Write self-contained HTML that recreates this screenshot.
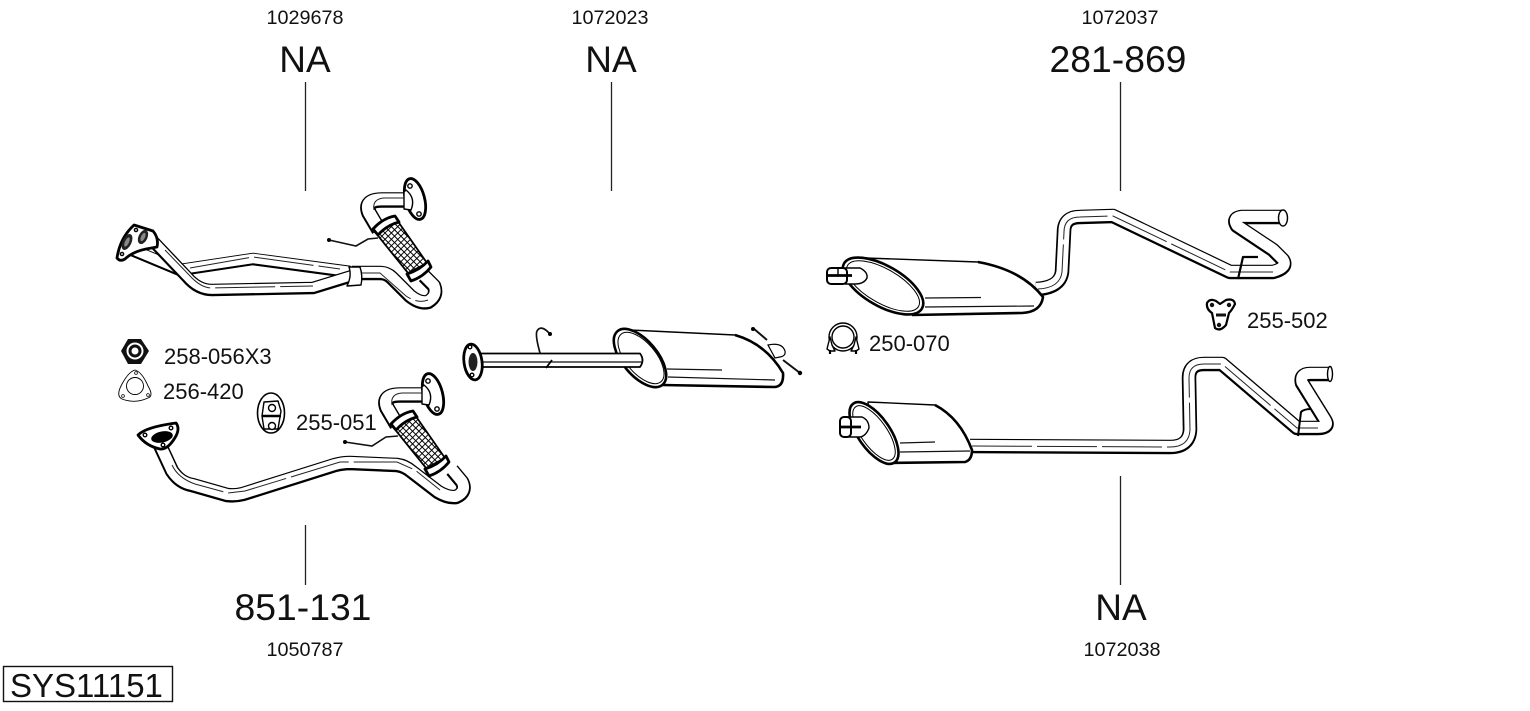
<!DOCTYPE html>
<html><head><meta charset="utf-8"><style>
html,body{margin:0;padding:0;background:#fff;width:1530px;height:711px;overflow:hidden}
svg{display:block}
text{font-family:"Liberation Sans",sans-serif;fill:#111}
.a{fill:none;stroke:#000;stroke-linejoin:round;stroke-linecap:butt}
.w{fill:none;stroke:#fff;stroke-linejoin:round;transform:translateY(-.6px)}
.c{fill:none;stroke:#222;stroke-width:1;stroke-dasharray:60 5}
.l{fill:none;stroke:#111;stroke-width:1.2}
.s{fill:#fff;stroke:#000;stroke-width:1.4;stroke-linejoin:round}
.h{fill:#fff;stroke:#000;stroke-width:2.8;stroke-linejoin:round}
</style></head><body>
<svg width="1530" height="711" viewBox="0 0 1530 711" xmlns="http://www.w3.org/2000/svg">
<defs>
<pattern id="mesh" width="4.5" height="4.5" patternUnits="userSpaceOnUse" patternTransform="rotate(45)">
<rect width="4.5" height="4.5" fill="#fff"/><path d="M0 0H4.500M0 0V4.500" stroke="#000" stroke-width="1.900"/>
</pattern>
<g id="flex">
<path class="a" stroke-width="15.500" d="M410 200H382Q364 200 369 213L379 230"/>
<path class="w" stroke-width="12" d="M410 200H382Q364 200 369 213L379 230"/>
<path class="c" d="M406 198H384Q372 199 374 210"/>
<ellipse class="h" cx="415" cy="199" rx="9.500" ry="21" transform="rotate(-15 415 199)"/>
<circle cx="410" cy="186" r="2.200" class="s"/><circle cx="419" cy="214" r="2.200" class="s"/>
<path class="s" d="M406 190Q416 198 411 210L404 209L404 192Z"/>
<path d="M375 232L397 220L427 263L408 273Z" fill="url(#mesh)" stroke="#000" stroke-width="1.800"/>
<path class="h" d="M373 229Q383 218 395 216L399 222Q387 225 378 235Z"/>
<path class="h" d="M407 274Q420 270 428 261L431 267Q423 277 411 281Z"/>
</g>
</defs>

<!-- labels -->
<text x="305" y="24" font-size="19.800" text-anchor="middle">1029678</text>
<text x="610" y="24" font-size="19.800" text-anchor="middle">1072023</text>
<text x="1120" y="24" font-size="19.800" text-anchor="middle">1072037</text>
<text x="305" y="72" font-size="37" text-anchor="middle">NA</text>
<text x="611" y="72" font-size="37" text-anchor="middle">NA</text>
<text x="1118" y="72" font-size="37.300" text-anchor="middle">281-869</text>
<text x="303" y="620" font-size="37.300" text-anchor="middle">851-131</text>
<text x="1121" y="620" font-size="37" text-anchor="middle">NA</text>
<text x="305" y="656" font-size="19.800" text-anchor="middle">1050787</text>
<text x="1122" y="656" font-size="19.800" text-anchor="middle">1072038</text>
<text x="164" y="364" font-size="22">258-056X3</text>
<text x="163" y="399" font-size="22">256-420</text>
<text x="296" y="430" font-size="22">255-051</text>
<text x="869" y="351" font-size="22">250-070</text>
<text x="1247" y="328" font-size="22">255-502</text>
<rect x="3.500" y="666.500" width="169" height="35" fill="#fff" stroke="#111" stroke-width="1.400"/>
<text x="10" y="697" font-size="33">SYS11151</text>

<!-- leaders -->
<path d="M305.500 82V191M611.500 82V191M1120.500 82V191M305.500 525V585M1120.500 476V585" stroke="#222" stroke-width="1.300" fill="none"/>

<!-- top-left downpipe -->
<g>
<path class="a" stroke-width="12.500" d="M132 250L180 270L253 259L350 272"/>
<path class="w" stroke-width="9.500" d="M132 250L180 270L253 259L350 272"/>
<path class="c" d="M190 268L253 257L340 269"/>
<path class="a" stroke-width="12.500" d="M150 238L187 277Q198 290 212 290L313 288L352 276"/>
<path class="w" stroke-width="9" d="M150 238L187 277Q198 290 212 290L313 288L352 276"/>
<path class="c" d="M165 250L192 278Q202 288 212 288L313 286"/>
<path class="a" stroke-width="14.500" d="M352 273H380Q387 273 392 278L410 296Q420 304 428 302Q438 296 434 286L424 276"/>
<path class="w" stroke-width="11" d="M352 273H380Q387 273 392 278L410 296Q420 304 428 302Q438 296 434 286L424 276"/>
<path class="c" d="M360 273H380L406 296Q418 304 428 300"/>
<path class="s" d="M349 267L360 267Q363 276 361 285L347 286Q352 276 349 267Z"/>
<use href="#flex"/>
<path class="l" style="stroke-width:1.600" d="M329 240L356 246L368 239L378 238"/>
<circle cx="329" cy="240" r="2"/>
<path class="h" d="M117 258Q120 238 134 225L153 231Q159 238 157 247L146 249Q132 252 125 259Q120 262 117 258Z"/>
<ellipse cx="127" cy="242" rx="4.500" ry="8.500" fill="#222" transform="rotate(25 127 242)"/>
<ellipse cx="143" cy="237" rx="4.500" ry="7.500" fill="#222" transform="rotate(25 143 237)"/>
<ellipse cx="127" cy="242" rx="2" ry="5" fill="#888" transform="rotate(25 127 242)"/>
<ellipse cx="143" cy="237" rx="2" ry="4.500" fill="#888" transform="rotate(25 143 237)"/>
<circle cx="122" cy="254" r="1.600" class="s"/><circle cx="136" cy="230" r="1.600" class="s"/>
</g>

<!-- small parts left -->
<path d="M121 351L128 339H141L149 351L141 364H128Z" fill="#111"/>
<circle cx="135" cy="351" r="8.500" fill="#fff"/><circle cx="135" cy="351" r="5" fill="none" stroke="#111" stroke-width="3"/>
<path class="s" d="M135 370Q142 372 148 386Q154 396 148 398Q135 404 122 399Q116 396 121 386Q128 372 135 370Z" style="stroke-width:.9"/>
<circle cx="135" cy="386" r="8.500" class="s" style="stroke-width:.9"/>
<circle cx="136" cy="373" r="1.400" class="s" style="stroke-width:.7"/><circle cx="123" cy="396" r="1.400" class="s" style="stroke-width:.7"/><circle cx="148" cy="395" r="1.400" class="s" style="stroke-width:.7"/>
<ellipse cx="271" cy="413" rx="13.500" ry="20" class="s" style="stroke-width:1.600"/>
<path class="s" d="M264 402L278 401L281 411L278 429L264 429L262 416Z"/>
<circle cx="272" cy="408" r="3.500" class="s"/><circle cx="272" cy="426" r="3.500" class="s"/>
<path d="M262 416H281" stroke="#000" stroke-width="2.500"/>

<!-- bottom-left downpipe -->
<g>
<path class="a" stroke-width="14.500" d="M159 443L172 471Q180 483 192 485L227 495Q235 496 243 494L335 465Q343 463 350 463L397 465Q405 466 412 472L438 492Q448 498 456 497Q467 492 462 482L452 470"/>
<path class="w" stroke-width="11" d="M159 443L172 471Q180 483 192 485L227 495Q235 496 243 494L335 465Q343 463 350 463L397 465Q405 466 412 472L438 492Q448 498 456 497Q467 492 462 482L452 470"/>
<path class="c" d="M172 465Q178 478 195 484L228 493L245 491L340 462H397L415 470L440 490"/>
<use href="#flex" transform="translate(18 195)"/>
<path class="l" style="stroke-width:1.600" d="M345 442L372 446L386 437L398 436"/>
<circle cx="345" cy="442" r="2"/>
<path class="h" d="M138 435Q146 427 176 423Q180 428 176 436Q168 450 160 449Q146 446 138 435Z"/>
<ellipse cx="162" cy="437" rx="11" ry="5.500" transform="rotate(-12 162 437)"/>
<circle cx="145" cy="435" r="1.800" class="s"/><circle cx="171" cy="428" r="1.800" class="s"/><circle cx="163" cy="445" r="1.800" class="s"/>
</g>

<!-- middle silencer -->
<g>
<path fill="#fff" stroke="#000" stroke-width="1.200" d="M768 345Q782 342 785 351Q786 356 780 357L775 358Z"/>
<path class="l" style="stroke-width:2" d="M753 328L767 340M783 360L800 373"/>
<circle cx="753" cy="329" r="2"/><circle cx="800" cy="373" r="2.200"/>
<path class="s" d="M630 330L735 335Q766 344 783 373Q784 386 775 387L662 385L640 360Z"/>
<path class="a" stroke-width="2.600" d="M735 335Q766 344 783 373Q784 386 775 387L662 385"/>
<path class="l" d="M667 369L722 370M668 377L775 380"/>
<ellipse cx="640" cy="358" rx="35" ry="17.500" transform="rotate(50 640 358)" fill="#fff" stroke="#000" stroke-width="2.600"/>
<ellipse cx="641" cy="358" rx="31" ry="15" transform="rotate(50 641 358)" fill="#fff" stroke="#000" stroke-width="1"/>
<path d="M478 354H640Q645 360 640 367H478Z" fill="#fff"/>
<path class="a" stroke-width="1.800" d="M478 353.500H640Q645 360 640 367H478"/>
<path class="l" d="M480 362H643"/>
<ellipse cx="473" cy="362" rx="9" ry="18" class="h" transform="rotate(-8 473 362)"/>
<ellipse cx="473" cy="362" rx="4.500" ry="9" fill="#222"/>
<circle cx="470" cy="347" r="1.800" class="s"/><circle cx="472" cy="375" r="1.800" class="s"/>
<path class="l" style="stroke-width:1.700" d="M540 353Q535 335 537 331Q541 324 550 334"/>
<circle cx="550" cy="334" r="2"/>
<path class="a" stroke-width="1.800" d="M552 360L546 368"/>
</g>

<!-- top rear silencer -->
<g>
<path class="a" stroke-width="14.500" d="M1036 289Q1060 288 1062 272L1064 232Q1064 217 1080 217L1113 216L1230 272H1273Q1288 268 1283 260L1273 250L1237 226Q1232 218 1242 217H1282"/>
<path class="w" stroke-width="11" d="M1036 289Q1060 288 1062 272L1064 232Q1064 217 1080 217L1113 216L1230 272H1273Q1288 268 1283 260L1273 250L1237 226Q1232 218 1242 217H1282"/>
<path class="c" d="M1038 289Q1060 288 1062 272L1064 232Q1064 217 1080 217L1113 216L1230 272H1273"/>
<ellipse cx="1283" cy="218" rx="4.500" ry="8" class="s"/>
<path class="a" stroke-width="2.200" d="M1238 279L1243 257H1258"/>
<path class="s" d="M865 258L978 262Q1022 270 1043 297Q1041 312 1022 313L912 315L880 285Z"/>
<path class="a" stroke-width="2.600" d="M978 262Q1022 270 1043 297Q1041 312 1022 313L912 315"/>
<path class="l" d="M925 298L981 297.500M925 307L1034 306"/>
<ellipse cx="883" cy="286" rx="45" ry="20" transform="rotate(30 883 286)" fill="#fff" stroke="#000" stroke-width="2.600"/>
<ellipse cx="883" cy="286" rx="41" ry="17" transform="rotate(30 883 286)" fill="#fff" stroke="#000" stroke-width="1"/>
<path class="s" d="M845 268H860Q868 272 867 278Q864 284 855 284H845Z"/>
<rect x="827" y="268" width="20" height="16" rx="4" fill="#fff" stroke="#000" stroke-width="2"/>
<path d="M828 275.500H852" stroke="#000" stroke-width="2.800"/><path d="M838 269V275" stroke="#000" stroke-width="1.400"/>
</g>

<!-- clamp -->
<circle cx="843" cy="337" r="14" class="s"/>
<circle cx="843" cy="337" r="11" class="s"/>
<path class="s" d="M830 337L827 349L830 351H835L832 345ZM856 337L859 349L856 351H851L854 345Z"/>
<path d="M830 350V354M856 350V354" stroke="#000" stroke-width="2.200"/>

<!-- hanger right -->
<path class="h" d="M1207 303Q1210 298 1216 301L1220 304L1226 300Q1234 298 1235 304Q1232 310 1229 313L1226 325Q1220 332 1215 328L1212 313Q1206 309 1207 303Z" style="stroke-width:2.200"/>
<circle cx="1212" cy="305" r="2.200" fill="#111"/><circle cx="1229" cy="305" r="2.200" fill="#111"/><circle cx="1219" cy="325" r="2.200" fill="#111"/>
<path d="M1216 315H1226" stroke="#111" stroke-width="3"/>

<!-- lower rear silencer -->
<g>
<path class="a" stroke-width="14.500" d="M970 446L1170 447Q1189 447 1190 430L1189 378Q1189 364 1204 364H1222L1297 428H1318Q1330 428 1325 420L1302 383Q1300 374 1310 374H1330"/>
<path class="w" stroke-width="11" d="M970 446L1170 447Q1189 447 1190 430L1189 378Q1189 364 1204 364H1222L1297 428H1318Q1330 428 1325 420L1302 383Q1300 374 1310 374H1330"/>
<path class="c" d="M972 446L1170 447Q1189 447 1190 430L1189 378Q1189 364 1204 364H1222L1297 428H1318"/>
<ellipse cx="1330" cy="374" rx="2.500" ry="7.500" class="s"/>
<path class="a" stroke-width="2" d="M1298 436L1301 412Q1304 409 1311 409"/>
<path class="s" d="M868 402L935 405Q960 418 972 450Q972 460 965 462L888 463L870 430Z"/>
<path class="a" stroke-width="2.600" d="M935 405Q960 418 972 450Q972 460 965 462L888 463"/>
<path class="l" d="M900 443L935 442M900 452L970 451"/>
<ellipse cx="874" cy="433" rx="36" ry="16" transform="rotate(55 874 433)" fill="#fff" stroke="#000" stroke-width="2.600"/>
<ellipse cx="874" cy="433" rx="32" ry="13" transform="rotate(55 874 433)" fill="#fff" stroke="#000" stroke-width="1"/>
<path class="s" d="M845 417H862Q869 420 869 428Q866 436 860 437H845Z"/>
<rect x="840" y="417" width="11" height="20" rx="4" fill="#fff" stroke="#000" stroke-width="2"/>
<path d="M841 427H861" stroke="#000" stroke-width="2.800"/>
</g>
</svg>
</body></html>
